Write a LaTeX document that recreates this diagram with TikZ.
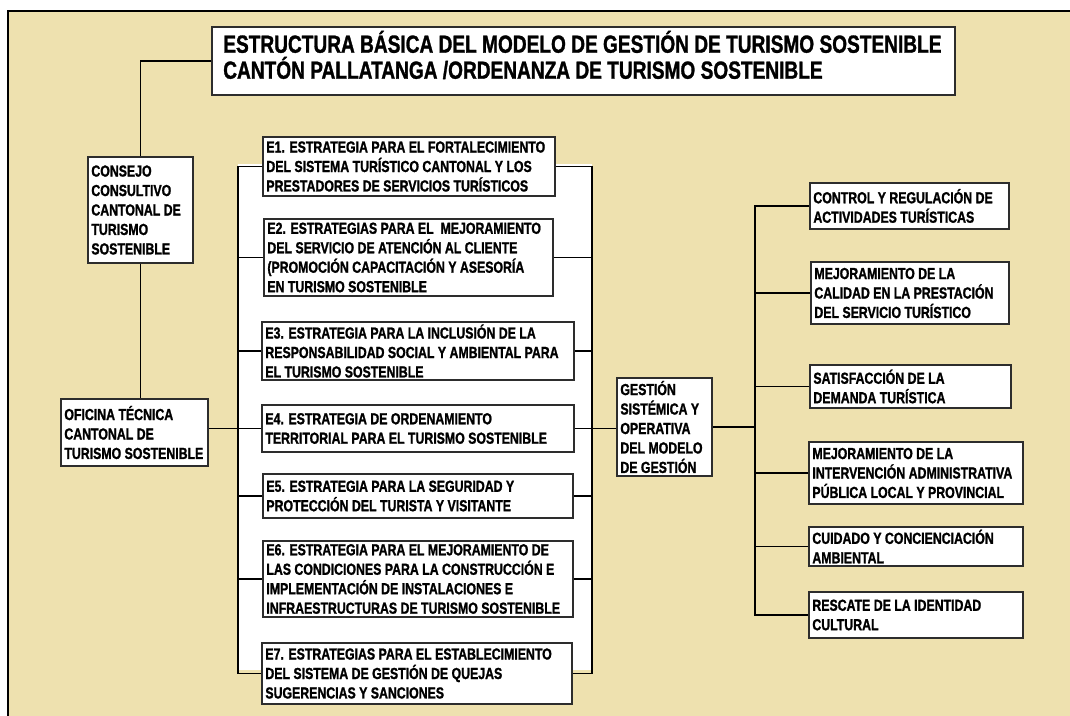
\documentclass[tikz,border=0pt]{standalone}
\usepackage{fontspec}
\setmainfont[FakeStretch=0.77, BoldFeatures={FakeBold=1.2}]{Liberation Sans}
\definecolor{tan}{RGB}{238,225,175}
\definecolor{boxline}{RGB}{45,45,45}
\newcommand{\mybox}[6]{%
  \pgfmathsetmacro{\myW}{#4*0.75}\pgfmathsetmacro{\myH}{#5*0.75}%
  \node[bx, minimum width=\myW pt, minimum height=\myH pt] (#1) at ({#2+#4/2},{#3+#5/2}) {};
  \node[txt] (#1-t) at ([xshift=3pt]#1.west) {#6};}
\begin{document}
\begin{tikzpicture}[x=0.75pt,y=-0.75pt,
  bx/.style={draw=boxline, fill=white, line width=1.3pt, inner sep=0pt, rectangle},
  txt/.style={anchor=west, align=left, inner sep=0pt, text=black,
    font=\fontsize{12}{14.6}\selectfont\bfseries},
  ttl/.style={anchor=west, align=left, inner sep=0pt, text=black,
    font=\fontsize{18.6}{19.5}\selectfont\bfseries},
  ln/.style={draw=black, line width=1.1pt}]
\useasboundingbox (0,0) rectangle (1070,716);
\fill[white] (0,0) rectangle (1070,716);
\fill[tan] (8,11) rectangle (1070,716);
\draw[line width=1pt] (8,716) -- (8,11) -- (1070,11);

% boxes
\pgfmathsetmacro{\myW}{743*0.75}\pgfmathsetmacro{\myH}{68*0.75}
\node[bx, minimum width=\myW pt, minimum height=\myH pt] (title) at ({212+743/2},{27+68/2}) {};
\node[ttl] (title-t) at (223,55) {ESTRUCTURA BÁSICA DEL MODELO DE GESTIÓN DE TURISMO SOSTENIBLE\\CANTÓN PALLATANGA /ORDENANZA DE TURISMO SOSTENIBLE};

\coordinate (bl) at (238,0);
\coordinate (br) at (592,0);
\coordinate (rb) at (755,0);

\mybox{consejo}{88}{157}{105}{106}{CONSEJO\\CONSULTIVO\\CANTONAL DE\\TURISMO\\SOSTENIBLE}
\mybox{oficina}{61}{399}{147}{67}{OFICINA TÉCNICA\\CANTONAL DE\\TURISMO SOSTENIBLE}

% white panel behind strategies
\fill[white] (238,164) rectangle (592,670);

\mybox{e1}{263}{137}{292}{59}{E1. ESTRATEGIA PARA EL FORTALECIMIENTO\\DEL SISTEMA TURÍSTICO CANTONAL Y LOS\\PRESTADORES DE SERVICIOS TURÍSTICOS}
\mybox{e2}{264}{219}{289}{77}{E2. ESTRATEGIAS PARA EL\ \ MEJORAMIENTO\\DEL SERVICIO DE ATENCIÓN AL CLIENTE\\(PROMOCIÓN CAPACITACIÓN Y ASESORÍA\\EN TURISMO SOSTENIBLE}
\mybox{e3}{262}{322}{312}{58}{E3. ESTRATEGIA PARA LA INCLUSIÓN DE LA\\RESPONSABILIDAD SOCIAL Y AMBIENTAL PARA\\EL TURISMO SOSTENIBLE}
\mybox{e4}{262}{405}{312}{47}{E4. ESTRATEGIA DE ORDENAMIENTO\\TERRITORIAL PARA EL TURISMO SOSTENIBLE}
\mybox{e5}{263}{474}{310}{44}{E5. ESTRATEGIA PARA LA SEGURIDAD Y\\PROTECCIÓN DEL TURISTA Y VISITANTE}
\mybox{e6}{263}{541}{310}{76}{E6. ESTRATEGIA PARA EL MEJORAMIENTO DE\\LAS CONDICIONES PARA LA CONSTRUCCIÓN E\\IMPLEMENTACIÓN DE INSTALACIONES E\\INFRAESTRUCTURAS DE TURISMO SOSTENIBLE}
\mybox{e7}{262}{643}{310}{61}{E7. ESTRATEGIAS PARA EL ESTABLECIMIENTO\\DEL SISTEMA DE GESTIÓN DE QUEJAS\\SUGERENCIAS Y SANCIONES}

\mybox{gestion}{617}{378}{95}{98}{GESTIÓN\\SISTÉMICA Y\\OPERATIVA\\DEL MODELO\\DE GESTIÓN}

\mybox{ctrl}{810}{183}{199}{46}{CONTROL Y REGULACIÓN DE\\ACTIVIDADES TURÍSTICAS}
\mybox{calid}{811}{262}{198}{62}{MEJORAMIENTO DE LA\\CALIDAD EN LA PRESTACIÓN\\DEL SERVICIO TURÍSTICO}
\mybox{satis}{810}{365}{201}{43}{SATISFACCIÓN DE LA\\DEMANDA TURÍSTICA}
\mybox{interv}{809}{442}{214}{62}{MEJORAMIENTO DE LA\\INTERVENCIÓN ADMINISTRATIVA\\PÚBLICA LOCAL Y PROVINCIAL}
\mybox{cuid}{809}{527}{214}{39}{CUIDADO Y CONCIENCIACIÓN\\AMBIENTAL}
\mybox{resc}{809}{592}{214}{46}{RESCATE DE LA IDENTIDAD\\CULTURAL}

% connectors
\draw[ln] (title.west) -| (consejo.north);
\draw[ln] (consejo.south) -- (consejo.south |- oficina.north);
\draw[ln] (e1.west) -| (bl |- e7.west) -- (e7.west);
\draw[ln] (e1.east) -| (br |- e7.east) -- (e7.east);
\foreach \n in {e2,e3,e5,e6}{
  \draw[ln] (\n.west) -- (\n.west -| bl);
  \draw[ln] (\n.east) -- (\n.east -| br);
}
\draw[ln] (oficina.east |- e4.west) -- (e4.west);
\draw[ln] (e4.east) -- (e4.east -| gestion.west);
\draw[ln] (gestion.east) -- (gestion.east -| rb);
\draw[ln] (ctrl.west) -| (rb |- resc.west) -- (resc.west);
\foreach \n in {calid,satis,interv,cuid}{
  \draw[ln] (\n.west) -- (\n.west -| rb);
}
\end{tikzpicture}
\end{document}
